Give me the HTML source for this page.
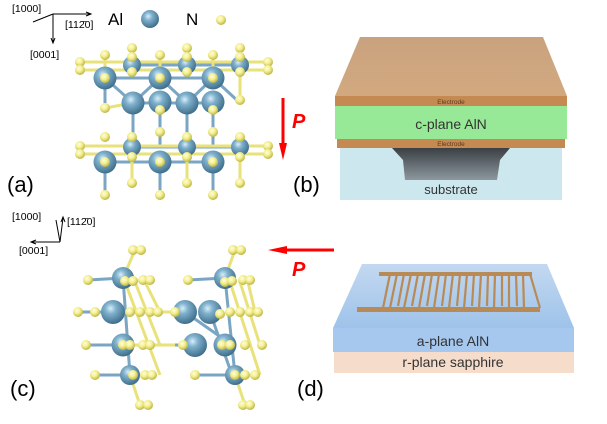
<!DOCTYPE html>
<html><head><meta charset="utf-8"><style>
body{margin:0;background:#fff;width:607px;height:424px;overflow:hidden}
svg{display:block}
text{font-family:"Liberation Sans",sans-serif}
</style></head><body>
<svg width="607" height="424" viewBox="0 0 607 424" xmlns="http://www.w3.org/2000/svg">
<defs>
<radialGradient id="al" cx="0.4" cy="0.35" r="0.65"><stop offset="0" stop-color="#d8eefa"/><stop offset="0.35" stop-color="#7fb0cc"/><stop offset="1" stop-color="#3f6f8c"/></radialGradient>
<radialGradient id="n" cx="0.4" cy="0.35" r="0.65"><stop offset="0" stop-color="#fffde0"/><stop offset="0.5" stop-color="#f3ee8c"/><stop offset="1" stop-color="#bdb548"/></radialGradient>
<linearGradient id="top" x1="0" y1="0" x2="0" y2="1"><stop offset="0" stop-color="#c9a27f"/><stop offset="1" stop-color="#d2a97f"/></linearGradient>
<linearGradient id="cav" x1="0" y1="0" x2="0" y2="1"><stop offset="0" stop-color="#3a4044"/><stop offset="1" stop-color="#8d989e"/></linearGradient>
<linearGradient id="dtop" x1="0" y1="0" x2="0" y2="1"><stop offset="0" stop-color="#c3d8f0"/><stop offset="1" stop-color="#9ec3ea"/></linearGradient>
</defs>

<!-- axes a -->
<g stroke="#000" stroke-width="1" fill="none">
<line x1="53" y1="14" x2="90" y2="14"/><path d="M86,12 L91,14 L86,16"/>
<line x1="53" y1="14" x2="33" y2="22"/>
<line x1="53" y1="14" x2="53" y2="42"/><path d="M51,38 L53,43 L55,38"/>
</g>
<g font-size="10.5" fill="#000">
<text x="12" y="12">[1000]</text>
<text x="65" y="28">[112̄0]</text>
<text x="30" y="58">[0001]</text>
</g>
<text x="108" y="25" font-size="17">Al</text>
<circle cx="150" cy="19" r="9" fill="url(#al)"/>
<text x="186" y="25" font-size="17">N</text>
<circle cx="221" cy="20" r="5" fill="url(#n)"/>

<!-- crystal a bonds -->
<g stroke="#7aa6c4" stroke-width="3">
<line x1="105" y1="78" x2="213" y2="78"/><line x1="132" y1="65" x2="240" y2="65"/>
<line x1="105" y1="78" x2="133" y2="103"/><line x1="160" y1="78" x2="133" y2="103"/><line x1="160" y1="78" x2="187" y2="103"/><line x1="213" y1="78" x2="187" y2="103"/><line x1="213" y1="78" x2="240" y2="103"/>
<line x1="133" y1="103" x2="133" y2="147"/><line x1="160" y1="103" x2="160" y2="147"/><line x1="187" y1="103" x2="187" y2="147"/><line x1="213" y1="103" x2="213" y2="147"/>
<line x1="105" y1="162" x2="213" y2="162"/><line x1="132" y1="147" x2="240" y2="147"/>
<line x1="105" y1="162" x2="105" y2="195"/><line x1="160" y1="162" x2="160" y2="195"/><line x1="213" y1="162" x2="213" y2="195"/>
<line x1="105" y1="78" x2="105" y2="103"/><line x1="133" y1="103" x2="213" y2="103"/>
</g>
<g stroke="#e9e27a" stroke-width="3">
<line x1="80" y1="62" x2="268" y2="62"/><line x1="80" y1="70" x2="268" y2="70"/>
<line x1="105" y1="55" x2="105" y2="78"/><line x1="160" y1="55" x2="160" y2="78"/><line x1="213" y1="55" x2="213" y2="78"/>
<line x1="240" y1="72" x2="240" y2="100"/><line x1="105" y1="108" x2="133" y2="103"/>
<line x1="80" y1="146" x2="268" y2="146"/><line x1="80" y1="154" x2="268" y2="154"/>
<line x1="132" y1="137" x2="132" y2="185"/><line x1="187" y1="137" x2="187" y2="185"/><line x1="240" y1="137" x2="240" y2="185"/>
</g>
<g fill="url(#al)">
<circle cx="132" cy="65" r="9"/><circle cx="187" cy="65" r="9"/><circle cx="240" cy="65" r="9"/>
<circle cx="105" cy="78" r="11.5"/><circle cx="160" cy="78" r="11.5"/><circle cx="213" cy="78" r="11.5"/>
<circle cx="133" cy="103" r="11.5"/><circle cx="160" cy="102" r="11.5"/><circle cx="187" cy="103" r="11.5"/><circle cx="213" cy="102" r="11.5"/>
<circle cx="132" cy="147" r="9"/><circle cx="187" cy="147" r="9"/><circle cx="240" cy="147" r="9"/>
<circle cx="105" cy="162" r="11.5"/><circle cx="160" cy="162" r="11.5"/><circle cx="213" cy="162" r="11.5"/>
</g>
<g fill="url(#n)">
<circle cx="132" cy="48" r="5"/><circle cx="187" cy="48" r="5"/><circle cx="240" cy="48" r="5"/>
<circle cx="105" cy="55" r="5"/><circle cx="132" cy="57" r="5"/><circle cx="160" cy="55" r="5"/><circle cx="187" cy="57" r="5"/><circle cx="213" cy="55" r="5"/><circle cx="240" cy="57" r="5"/>
<circle cx="80" cy="62" r="5"/><circle cx="80" cy="70" r="5"/><circle cx="268" cy="62" r="5"/><circle cx="268" cy="70" r="5"/>
<circle cx="105" cy="78" r="5"/><circle cx="160" cy="78" r="5"/><circle cx="213" cy="78" r="5"/>
<circle cx="132" cy="72" r="5"/><circle cx="187" cy="72" r="5"/><circle cx="240" cy="72" r="5"/>
<circle cx="240" cy="100" r="5"/><circle cx="105" cy="108" r="5"/><circle cx="160" cy="110" r="5"/><circle cx="213" cy="110" r="5"/>
<circle cx="132" cy="137" r="5"/><circle cx="160" cy="132" r="5"/><circle cx="187" cy="137" r="5"/><circle cx="213" cy="132" r="5"/><circle cx="240" cy="137" r="5"/><circle cx="105" cy="137" r="5"/>
<circle cx="80" cy="146" r="5"/><circle cx="80" cy="154" r="5"/><circle cx="268" cy="146" r="5"/><circle cx="268" cy="154" r="5"/>
<circle cx="105" cy="162" r="5"/><circle cx="160" cy="162" r="5"/><circle cx="213" cy="162" r="5"/>
<circle cx="132" cy="157" r="5"/><circle cx="187" cy="157" r="5"/><circle cx="240" cy="157" r="5"/>
<circle cx="132" cy="183" r="5"/><circle cx="187" cy="183" r="5"/><circle cx="240" cy="183" r="5"/>
<circle cx="105" cy="195" r="5"/><circle cx="160" cy="195" r="5"/><circle cx="213" cy="195" r="5"/>
</g>

<!-- arrow a -->
<line x1="283" y1="98" x2="283" y2="145" stroke="#f00" stroke-width="3"/>
<path d="M279,143 L283,160 L287,143 Z" fill="#f00"/>
<text x="292" y="128" font-size="20" font-weight="bold" font-style="italic" fill="#f00">P</text>

<text x="7" y="192" font-size="22">(a)</text>
<text x="293" y="192" font-size="22">(b)</text>
<text x="10" y="396" font-size="22">(c)</text>
<text x="297" y="396" font-size="22">(d)</text>

<!-- device b -->
<path d="M360,37 L543,37 L567,96 L335,96 Z" fill="url(#top)"/>
<rect x="335" y="96" width="232" height="10" fill="#c58a52"/>
<rect x="335" y="106" width="232" height="33" fill="#98e997"/>
<rect x="337" y="139" width="228" height="9" fill="#c58a52"/>
<rect x="340" y="148" width="222" height="52" fill="#cce8ee"/>
<path d="M392,148 L510,148 L500,160 L497,180 L405,180 L403,160 Z" fill="url(#cav)"/>
<g font-size="6.5" fill="#5a3a20" text-anchor="middle"><text x="451" y="104">Electrode</text><text x="451" y="146">Electrode</text></g>
<text x="451" y="129" font-size="14" text-anchor="middle" fill="#333">c-plane AlN</text>
<text x="451" y="194" font-size="13" text-anchor="middle" fill="#333">substrate</text>

<!-- axes c -->
<g stroke="#000" stroke-width="1" fill="none">
<line x1="60" y1="242" x2="32" y2="242"/><path d="M36,240 L31,242 L36,244"/>
<line x1="60" y1="242" x2="56" y2="220"/><line x1="60" y1="242" x2="63" y2="218"/><path d="M61,222 L63,217 L65,222"/>
</g>
<g font-size="10.5"><text x="12" y="220">[1000]</text><text x="67" y="225">[112̄0]</text><text x="19" y="254">[0001]</text></g>

<!-- crystal c -->
<g stroke="#7aa6c4" stroke-width="3">
<line x1="123" y1="278" x2="130" y2="375"/><line x1="113" y1="312" x2="195" y2="312"/><line x1="123" y1="345" x2="195" y2="345"/>
<line x1="225" y1="278" x2="235" y2="375"/><line x1="185" y1="312" x2="232" y2="345"/><line x1="210" y1="312" x2="232" y2="375"/>
<line x1="88" y1="280" x2="123" y2="278"/><line x1="78" y1="312" x2="113" y2="312"/><line x1="88" y1="345" x2="123" y2="345"/><line x1="95" y1="375" x2="130" y2="375"/>
<line x1="188" y1="280" x2="225" y2="278"/><line x1="195" y1="375" x2="235" y2="375"/>
</g>
<g stroke="#e9e27a" stroke-width="3">
<line x1="135" y1="250" x2="123" y2="278"/><line x1="235" y1="250" x2="225" y2="278"/>
<line x1="140" y1="405" x2="130" y2="375"/><line x1="245" y1="405" x2="235" y2="375"/>
<line x1="125" y1="282" x2="160" y2="375"/><line x1="135" y1="282" x2="160" y2="345"/><line x1="145" y1="282" x2="160" y2="312"/>
<line x1="230" y1="282" x2="260" y2="375"/><line x1="240" y1="282" x2="260" y2="345"/><line x1="248" y1="282" x2="255" y2="312"/>
<line x1="130" y1="312" x2="175" y2="312"/><line x1="130" y1="345" x2="175" y2="345"/>
</g>
<g fill="url(#al)">
<circle cx="123" cy="278" r="11"/><circle cx="113" cy="312" r="12"/><circle cx="123" cy="345" r="11.5"/><circle cx="130" cy="375" r="10"/>
<circle cx="185" cy="312" r="12"/><circle cx="195" cy="345" r="12"/><circle cx="225" cy="278" r="11"/><circle cx="210" cy="312" r="12"/><circle cx="225" cy="345" r="11.5"/><circle cx="235" cy="375" r="10"/>
</g>
<g fill="url(#n)">
<circle cx="133" cy="250" r="5"/><circle cx="141" cy="250" r="5"/><circle cx="233" cy="250" r="5"/><circle cx="241" cy="250" r="5"/>
<circle cx="88" cy="280" r="5"/><circle cx="125" cy="281" r="5"/><circle cx="133" cy="281" r="5"/><circle cx="143" cy="280" r="5"/><circle cx="150" cy="280" r="5"/>
<circle cx="188" cy="280" r="5"/><circle cx="225" cy="282" r="5"/><circle cx="232" cy="281" r="5"/><circle cx="243" cy="280" r="5"/><circle cx="250" cy="280" r="5"/>
<circle cx="78" cy="312" r="5"/><circle cx="95" cy="312" r="5"/><circle cx="130" cy="312" r="5"/><circle cx="140" cy="312" r="5"/><circle cx="150" cy="312" r="5"/><circle cx="158" cy="312" r="5"/>
<circle cx="175" cy="312" r="5"/><circle cx="220" cy="314" r="5"/><circle cx="230" cy="312" r="5"/><circle cx="240" cy="312" r="5"/><circle cx="250" cy="312" r="5"/><circle cx="258" cy="312" r="5"/>
<circle cx="86" cy="345" r="5"/><circle cx="123" cy="345" r="5"/><circle cx="130" cy="345" r="5"/><circle cx="143" cy="345" r="5"/><circle cx="150" cy="345" r="5"/>
<circle cx="183" cy="345" r="5"/><circle cx="222" cy="345" r="5"/><circle cx="230" cy="345" r="5"/><circle cx="245" cy="345" r="5"/><circle cx="262" cy="345" r="5"/>
<circle cx="95" cy="375" r="5"/><circle cx="133" cy="375" r="5"/><circle cx="145" cy="375" r="5"/><circle cx="152" cy="375" r="5"/>
<circle cx="195" cy="375" r="5"/><circle cx="235" cy="375" r="5"/><circle cx="245" cy="375" r="5"/><circle cx="255" cy="375" r="5"/>
<circle cx="140" cy="405" r="5"/><circle cx="148" cy="405" r="5"/><circle cx="243" cy="405" r="5"/><circle cx="250" cy="405" r="5"/>
</g>

<!-- arrow c -->
<line x1="334" y1="250" x2="285" y2="250" stroke="#f00" stroke-width="3"/>
<path d="M287,246 L268,250 L287,254 Z" fill="#f00"/>
<text x="292" y="276" font-size="20" font-weight="bold" font-style="italic" fill="#f00">P</text>

<!-- device d -->
<path d="M362,264 L547,264 L574,328 L333,328 Z" fill="url(#dtop)"/>
<rect x="333" y="328" width="241" height="24" fill="#a6c8ef"/>
<rect x="334" y="352" width="240" height="21" fill="#f6dccb"/>
<text x="453" y="346" font-size="14" text-anchor="middle" fill="#333">a-plane AlN</text>
<text x="453" y="367" font-size="14" text-anchor="middle" fill="#333">r-plane sapphire</text>
<g stroke="#b88a55" stroke-width="2.2">
<line x1="397" y1="274" x2="390" y2="308"/><line x1="411" y1="274" x2="404" y2="308"/><line x1="425" y1="274" x2="419" y2="308"/><line x1="439" y1="274" x2="434" y2="308"/><line x1="453" y1="274" x2="449" y2="308"/><line x1="467" y1="274" x2="464" y2="308"/><line x1="481" y1="274" x2="479" y2="308"/><line x1="495" y1="274" x2="494" y2="308"/><line x1="509" y1="274" x2="509" y2="308"/><line x1="523" y1="274" x2="524" y2="308"/>
<line x1="390" y1="274" x2="383" y2="308"/><line x1="404" y1="274" x2="398" y2="306"/><line x1="418" y1="274" x2="412" y2="306"/><line x1="432" y1="274" x2="427" y2="306"/><line x1="446" y1="274" x2="442" y2="306"/><line x1="460" y1="274" x2="457" y2="306"/><line x1="474" y1="274" x2="472" y2="306"/><line x1="488" y1="274" x2="487" y2="306"/><line x1="502" y1="274" x2="502" y2="306"/><line x1="516" y1="274" x2="517" y2="306"/><line x1="530" y1="274" x2="540" y2="308"/>
</g>
<rect x="379" y="272" width="153" height="4" fill="#b88a55"/>
<rect x="357" y="307" width="183" height="5" fill="#b88a55"/>
</svg>
</body></html>
